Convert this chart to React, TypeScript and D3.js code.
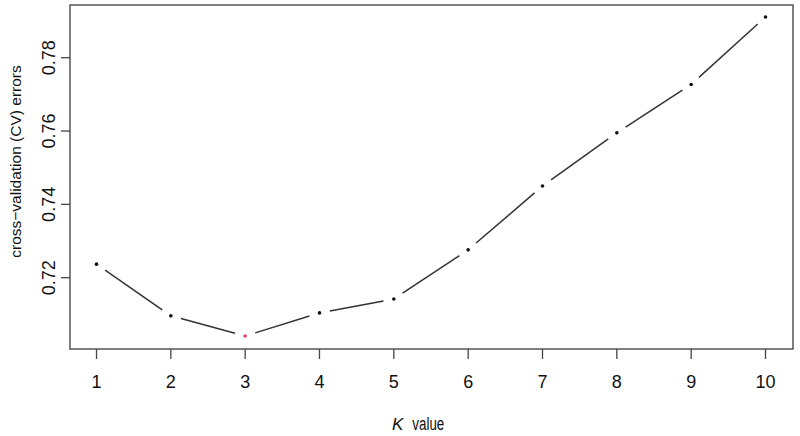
import React from "react";
import * as d3 from "d3";

const kValues = [1, 2, 3, 4, 5, 6, 7, 8, 9, 10];
const cvErrors = [0.7237, 0.7096, 0.7041, 0.7104, 0.7142, 0.7276, 0.745, 0.7595, 0.7727, 0.7911];
const yTicks = [0.72, 0.74, 0.76, 0.78];
const bestK = 3;

const width = 800;
const height = 436;
const box = { left: 70, right: 793, top: 5, bottom: 349 };
const font = "'Liberation Sans', Arial, sans-serif";

export default function App() {
  const x = d3.scaleLinear().domain([1, 10]).range([96.5, 765.5]);
  const y = d3.scaleLinear().domain([0.72, 0.78]).range([277.7, 57.7]);

  const pts = kValues.map((k, i) => ({ k, px: x(k), py: y(cvErrors[i]) }));
  const gap = 10.5;

  // R type = "b": segments leave a gap around each point
  const segs = d3.pairs(pts).map(([a, b]) => {
    const dx = b.px - a.px;
    const dy = b.py - a.py;
    const len = Math.hypot(dx, dy);
    const ux = dx / len;
    const uy = dy / len;
    return {
      x1: a.px + ux * gap,
      y1: a.py + uy * gap,
      x2: b.px - ux * gap,
      y2: b.py - uy * gap,
    };
  });

  return (
    <svg width={width} height={height} style={{ position: "absolute", left: 0, top: 0, background: "#fff" }}>
      <rect
        x={box.left}
        y={box.top}
        width={box.right - box.left}
        height={box.bottom - box.top}
        fill="none"
        stroke="#555"
        strokeWidth={1.5}
      />
      {segs.map((s, i) => (
        <line key={i} x1={s.x1} y1={s.y1} x2={s.x2} y2={s.y2} stroke="#333" strokeWidth={1.5} />
      ))}
      {pts.map((p) => (
        <circle key={p.k} cx={p.px} cy={p.py} r={1.8} fill={p.k === bestK ? "#e8405a" : "#111"} />
      ))}

      {kValues.map((k) => (
        <g key={k} transform={`translate(${x(k)},0)`}>
          <line y1={box.bottom} y2={box.bottom + 10} stroke="#444" strokeWidth={1.3} />
          <text y={388} textAnchor="middle" fontFamily={font} fontSize={18} fill="#111">
            {k}
          </text>
        </g>
      ))}

      {yTicks.map((t) => (
        <g key={t} transform={`translate(0,${y(t)})`}>
          <line x1={box.left - 9} x2={box.left} stroke="#444" strokeWidth={1.3} />
          <text
            transform="translate(55,0) rotate(-90)"
            textAnchor="middle"
            fontFamily={font}
            fontSize={18}
            fill="#111"
          >
            {d3.format(".2f")(t)}
          </text>
        </g>
      ))}

      <text
        transform="translate(21,161.5) rotate(-90)"
        textAnchor="middle"
        fontFamily={font}
        fontSize={15.5}
        fill="#111"
      >
        cross−validation (CV) errors
      </text>

      <text x={392} y={430} fontFamily={font} fontSize={17} fontStyle="italic" fill="#111">
        K
      </text>
      <text
        x={412.3}
        y={430}
        fontFamily={font}
        fontSize={18}
        fill="#111"
        textLength={32}
        lengthAdjust="spacingAndGlyphs"
      >
        value
      </text>
    </svg>
  );
}
